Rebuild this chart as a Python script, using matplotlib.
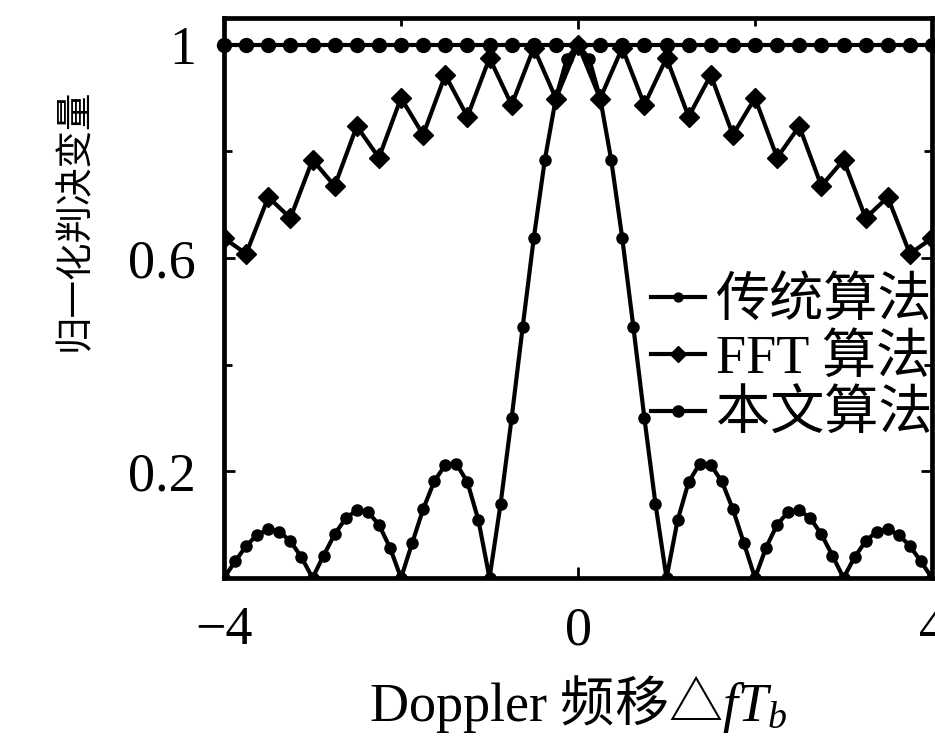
import numpy as np
import matplotlib
matplotlib.use("Agg")
import matplotlib.pyplot as plt
from matplotlib.ticker import FixedLocator, FixedFormatter

plt.rcParams["font.family"] = ["Liberation Serif", "Noto Sans CJK SC", "DejaVu Sans"]
plt.rcParams["mathtext.fontset"] = "custom"
plt.rcParams["mathtext.rm"] = "Liberation Serif"
plt.rcParams["mathtext.it"] = "Liberation Serif:italic"
plt.rcParams["mathtext.sf"] = "Noto Sans CJK SC"

# sample grids (Doppler shift * Tb)
x_trad = np.linspace(-4, 4, 65)
x_fft = np.linspace(-4, 4, 33)
x_prop = np.linspace(-4, 4, 33)

# 传统算法
trad_vals = [0, .031, .060, .081, .091, .087, .069, .039,
             0, .042, .082, .112, .127, .124, .100, .057,
             0, .065, .129, .181, .212, .214, .180, .108,
             0, .139, .300, .471, .637, .784, .900, .974,
             1.0,
             .974, .900, .784, .637, .471, .300, .139, 0,
             .108, .180, .214, .212, .181, .129, .065, 0,
             .057, .100, .124, .127, .112, .082, .042, 0,
             .039, .069, .087, .091, .081, .060, .031, 0]

# FFT 算法
fft_vals = [.637, .608, .714, .675, .784, .735, .847, .788,
            .900, .831, .943, .865, .975, .887, .994, .899,
            1.0,
            .899, .994, .887, .975, .865, .943, .831,
            .900, .788, .847, .735, .784, .675, .714, .608, .637]

# 本文算法
prop_vals = [1.0] * 33

labels = ["传统算法", "FFT 算法", "本文算法"]
x_ticks = [-4, 0, 4]
x_ticklabels = ["−4", "0", "4"]
y_ticks = [0.2, 0.6, 1.0]
y_ticklabels = ["0.2", "0.6", "1"]

fig = plt.figure(figsize=(9.35, 7.43), dpi=100)
ax = fig.add_axes([0.2396, 0.2221, 0.7572, 0.7537])

lw = 3.0
ax.plot(x_trad, trad_vals, color="black", lw=lw, marker="o", ms=8,
        label=labels[0], zorder=3)
ax.plot(x_fft, fft_vals, color="black", lw=lw, marker="D", ms=10,
        label=labels[1], zorder=3)
ax.plot(x_prop, prop_vals, color="black", lw=lw, marker="o", ms=10,
        label=labels[2], zorder=3, clip_on=False)

ax.set_xlim(-4, 4)
ax.set_ylim(0, 1.05)

ax.xaxis.set_major_locator(FixedLocator(x_ticks))
ax.xaxis.set_major_formatter(FixedFormatter(x_ticklabels))
ax.xaxis.set_minor_locator(FixedLocator([-2, 2]))
ax.yaxis.set_major_locator(FixedLocator(y_ticks))
ax.yaxis.set_major_formatter(FixedFormatter(y_ticklabels))
ax.yaxis.set_minor_locator(FixedLocator([0.4, 0.8]))

ax.tick_params(which="both", direction="in", top=True, right=True,
               width=2, labelsize=39)
ax.tick_params(which="major", length=8, pad=20)
ax.tick_params(which="minor", length=6)
for s in ax.spines.values():
    s.set_linewidth(3.4)

ax.set_xlabel(r"Doppler $\mathsf{频移△}fT_b$", fontsize=39, labelpad=12)
ax.set_ylabel("归一化判决变量", fontsize=27)
ax.yaxis.set_label_coords(-0.185, 0.64)

leg = ax.legend(loc="center right", bbox_to_anchor=(1.0, 0.39),
                frameon=False, fontsize=39, handlelength=1.0,
                handletextpad=0.2, labelspacing=0.12, borderpad=0,
                borderaxespad=0, markerscale=0.8)

fig.savefig("out.png", dpi=100)
